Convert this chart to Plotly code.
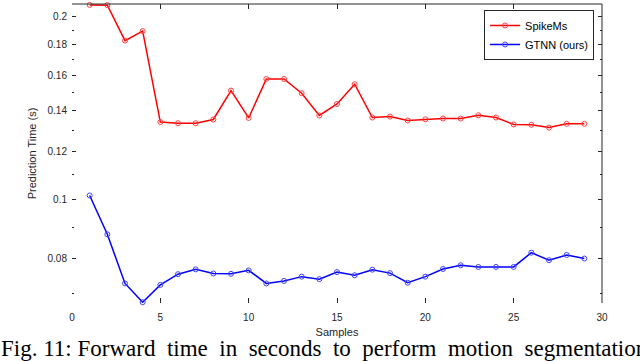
import numpy as np
import plotly.graph_objects as go

samples = list(range(1, 30))
spikems = [0.2092, 0.2090, 0.1827, 0.1894, 0.1342, 0.1336, 0.1336, 0.1355, 0.1512,
           0.1363, 0.1580, 0.1580, 0.1497, 0.1376, 0.1437, 0.1549, 0.1365, 0.1370,
           0.1350, 0.1356, 0.1360, 0.1360, 0.1377, 0.1365, 0.1330, 0.1328, 0.1314,
           0.1333, 0.1333]
gtnn = [0.1016, 0.0877, 0.0728, 0.0678, 0.0724, 0.0754, 0.0768, 0.0756, 0.0755,
        0.0765, 0.0728, 0.0735, 0.0747, 0.0740, 0.0760, 0.0751, 0.0767, 0.0757,
        0.0730, 0.0747, 0.0769, 0.0780, 0.0775, 0.0775, 0.0775, 0.0818, 0.0795,
        0.0811, 0.0800]
y_ticks = [0.08, 0.1, 0.12, 0.14, 0.16, 0.18, 0.2]
y_ticktext = ["0.08", "0.1", "0.12", "0.14", "0.16", "0.18", "0.2"]
y_minor = [0.07, 0.09, 0.11, 0.13, 0.15, 0.17, 0.19]
x_ticks = [0, 5, 10, 15, 20, 25, 30]

fig = go.Figure()
fig.add_trace(go.Scatter(x=samples, y=spikems, name="SpikeMs", mode="lines+markers",
                         line=dict(color="#ff0000", width=1.5),
                         marker=dict(symbol="circle-open", size=5, color="#ff4040", line=dict(width=1)),
                         cliponaxis=False))
fig.add_trace(go.Scatter(x=samples, y=gtnn, name="GTNN (ours)", mode="lines+markers",
                         line=dict(color="#0000ff", width=1.5),
                         marker=dict(symbol="circle-open", size=5, color="#4040ff", line=dict(width=1)),
                         cliponaxis=False))

axis_font = dict(family="Liberation Sans, Arial", size=10, color="#262626")
fig.update_layout(
    width=640, height=361,
    margin=dict(l=72, r=38, t=4, b=58, autoexpand=False),
    plot_bgcolor="white", paper_bgcolor="white",
    font=dict(family="Liberation Sans, Arial", color="#262626"),
    xaxis=dict(range=[0, 30], tickvals=x_ticks, ticks="inside", ticklen=5, tickcolor="#262626",
               showline=False, mirror="ticks", showgrid=False, zeroline=False, tickfont=axis_font,
               automargin=False, ticklabelstandoff=7,
               title=dict(text="Samples", font=dict(size=11), standoff=6)),
    yaxis=dict(type="log", range=[np.log10(0.0676), np.log10(0.2099)], tickvals=y_ticks,
               ticktext=y_ticktext, ticks="inside", ticklen=4, tickcolor="#262626",
               minor=dict(tickvals=y_minor, ticks="inside", ticklen=2, tickcolor="#262626"),
               showline=False, mirror="ticks", showgrid=False, zeroline=False, tickfont=axis_font,
               ticklabelstandoff=4, automargin=False,
               title=dict(text="Prediction Time (s)", font=dict(size=11), standoff=8)),
    legend=dict(x=0.985, y=0.98, xanchor="right", yanchor="top", bgcolor="white",
                bordercolor="#262626", borderwidth=1, font=dict(size=11, color="#000000"),
                tracegroupgap=0, itemwidth=30),
    showlegend=True,
)

# top and right frame lines
fig.add_shape(type="line", xref="paper", yref="paper", x0=0, x1=1, y0=1, y1=1,
              line=dict(color="#262626", width=1))
fig.add_shape(type="line", xref="paper", yref="paper", x0=1, x1=1, y0=0, y1=1,
              line=dict(color="#262626", width=1))

fig.add_annotation(text="Fig.\u00a011:\u00a0Forward\u00a0\u00a0time\u00a0\u00a0in\u00a0\u00a0seconds\u00a0\u00a0to\u00a0\u00a0perform\u00a0\u00a0motion\u00a0\u00a0segmentation",
                   xref="paper", yref="paper", x=-73/530, y=-0.153, xanchor="left", yanchor="middle",
                   showarrow=False, font=dict(family="Liberation Serif, Times New Roman", size=23, color="black"))

fig.write_html("out.html", config={"displayModeBar": False},
               post_script="document.body.style.margin='0';")
